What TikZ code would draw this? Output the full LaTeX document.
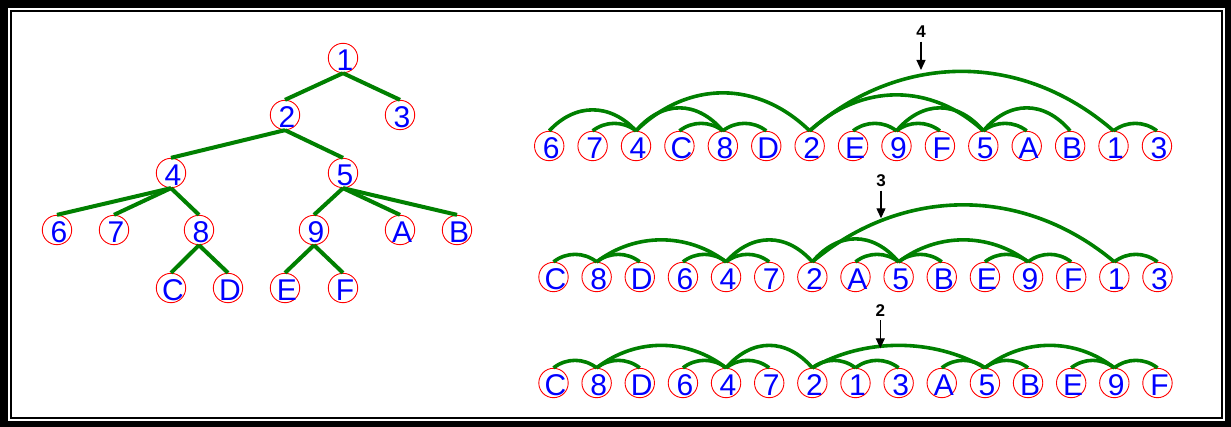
\documentclass[tikz,border=0pt]{standalone}
\usepackage{fontspec}
\setmainfont{Liberation Sans}
\usetikzlibrary{calc,arrows.meta}

\definecolor{edgegreen}{RGB}{0,128,0}

\tikzset{
  vx/.style={circle, draw=red, line width=0.9pt, minimum size=29.4pt, inner sep=0pt},
  vlabel/.style={text=blue, inner sep=0pt, xshift=2pt, yshift=-2pt,
    font=\fontsize{30}{30}\selectfont},
  tedge/.style={draw=edgegreen, line width=4pt},
  arcl/.style={draw=edgegreen, line width=3.6pt},
  rank/.style={font=\fontsize{17}{17}\selectfont\bfseries, inner sep=0pt, outer sep=4pt},
  ptr/.style={draw=black, line width=1.2pt, -{Triangle[length=10pt,width=9pt]}}
}

% vertex: name, position, text
\newcommand\vtx[3]{\node[vx, label={[vlabel]center:#3}] (#1) at (#2) {};}
% arc over the row from the top of one vertex to the top of another, peak height #3
\newcommand\harc[3]{\draw[arcl] (#1.north) .. controls ($(#1.north)!0.3!(#2.north)+(0,{-1.3333*#3})$) and ($(#1.north)!0.7!(#2.north)+(0,{-1.3333*#3})$) .. (#2.north);}

\begin{document}
\begin{tikzpicture}[x=1pt, y=-1pt]
\useasboundingbox (0,0) rectangle (1231,427);

% double frame
\fill[black] (0,0) rectangle (1231,427);
\fill[white] (8,8) rectangle (1225,421);
\draw[black, line width=2pt] (11.2,11.2) rectangle (1222,418);

% ---- tree ----
\vtx{t1}{343,58}{1}
\vtx{t2}{285,115}{2}
\vtx{t3}{400,115}{3}
\vtx{t4}{171,173}{4}
\vtx{t5}{343,173}{5}
\vtx{t6}{57,230}{6}
\vtx{t7}{114,230}{7}
\vtx{t8}{199,230}{8}
\vtx{t9}{314,230}{9}
\vtx{tA}{400,230}{A}
\vtx{tB}{457,230}{B}
\vtx{tC}{171,288}{C}
\vtx{tD}{228,288}{D}
\vtx{tE}{285,288}{E}
\vtx{tF}{343,288}{F}

\foreach \p/\c in {t1/t2, t1/t3, t2/t4, t2/t5, t4/t6, t4/t7, t4/t8,
                   t5/t9, t5/tA, t5/tB, t8/tC, t8/tD, t9/tE, t9/tF}
  \draw[tedge] (\p.south) -- (\c.north);

% ---- row 1 ----
\foreach \n [count=\i from 0] in {6,7,4,C,8,D,2,E,9,F,5,A,B,1,3}
  \node[vx, label={[vlabel]center:\n}] (a\n) at ({549.2+43.41*\i},146) {};

\harc{a6}{a4}{21}
\harc{a7}{a4}{7.5}
\harc{a4}{a8}{23}
\harc{aC}{a8}{7.5}
\harc{a8}{aD}{7.5}
\harc{a4}{a2}{38}
\harc{aE}{a9}{7.5}
\harc{a9}{aF}{7.5}
\harc{a9}{a5}{23}
\harc{a5}{aA}{7.5}
\harc{a5}{aB}{23}
\harc{a2}{a5}{36}
\harc{a2}{a1}{59.5}
\harc{a1}{a3}{7.5}

\node[rank] (k4) at (921,31.7) {4};
\coordinate (k4tip) at (921,70);
\draw[ptr] (k4) -- (k4tip);

% ---- row 2 ----
\foreach \n [count=\i from 0] in {C,8,D,6,4,7,2,A,5,B,E,9,F,1,3}
  \node[vx, label={[vlabel]center:\n}] (b\n) at ({553.5+43.14*\i},277) {};

\harc{bC}{b8}{7.5}
\harc{b8}{bD}{7.5}
\harc{b8}{b4}{22}
\harc{b6}{b4}{7.5}
\harc{b4}{b7}{7.5}
\harc{b4}{b2}{22}
\harc{b2}{b5}{23}
\harc{bA}{b5}{7.5}
\harc{b5}{bB}{7.5}
\harc{b5}{b9}{22}
\harc{bE}{b9}{7.5}
\harc{b9}{bF}{7.5}
\harc{b2}{b1}{57}
\harc{b1}{b3}{7.5}

\node[rank] (k3) at (881,180.5) {3};
\coordinate (k3tip) at (881,218.3);
\draw[ptr] (k3) -- (k3tip);

% ---- row 3 ----
\foreach \n [count=\i from 0] in {C,8,D,6,4,7,2,1,3,A,5,B,E,9,F}
  \node[vx, label={[vlabel]center:\n}] (c\n) at ({553.5+43.14*\i},383) {};

\harc{cC}{c8}{7.5}
\harc{c8}{cD}{7.5}
\harc{c8}{c4}{22.5}
\harc{c6}{c4}{7.5}
\harc{c4}{c7}{7.5}
\harc{c4}{c2}{22.5}
\harc{c2}{c1}{7.5}
\harc{c1}{c3}{7.5}
\harc{c2}{c5}{22.5}
\harc{cA}{c5}{7.5}
\harc{c5}{cB}{7.5}
\harc{c5}{c9}{22.5}
\harc{cE}{c9}{7.5}
\harc{c9}{cF}{7.5}

\node[rank] (k2) at (880.3,310.5) {2};
\coordinate (k2tip) at (880.3,348.3);
\draw[ptr] (k2) -- (k2tip);

\end{tikzpicture}
\end{document}
